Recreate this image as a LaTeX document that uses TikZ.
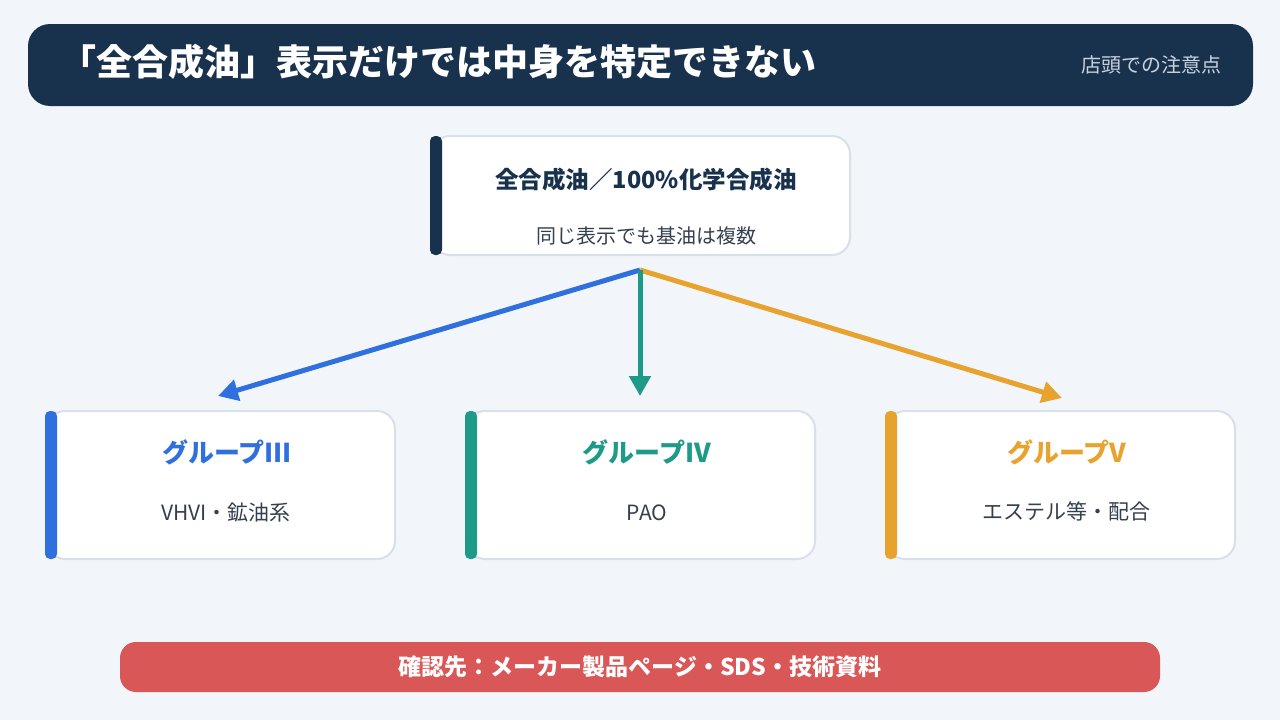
\documentclass[tikz,border=0pt]{standalone}
\usepackage{fontspec}
\setmainfont{Noto Sans CJK JP}
\usetikzlibrary{arrows.meta}
\definecolor{bg}{HTML}{F2F5FA}
\definecolor{navy}{HTML}{18324E}
\definecolor{cardline}{HTML}{D8E0EA}
\definecolor{subgray}{HTML}{C9D3DE}
\definecolor{txt}{HTML}{34404E}
\definecolor{blueA}{HTML}{2F6FDE}
\definecolor{tealA}{HTML}{1E9A88}
\definecolor{orangeA}{HTML}{E8A22E}
\definecolor{redA}{HTML}{D95757}
\tikzset{
  card/.style={draw=cardline, line width=2pt, fill=white, rounded corners=18pt},
  accent/.style={rounded corners=5pt},
  ttl/.style={font=\fontsize{#1}{#1}\selectfont\bfseries, anchor=center, inner sep=0pt},
  sub/.style={font=\fontsize{#1}{#1}\selectfont, text=txt, anchor=center, inner sep=0pt},
  flow/.style={line width=5pt, -{Triangle[length=20pt,width=21pt]}}
}
\begin{document}
\begin{tikzpicture}[x=1pt,y=-1pt]
\fill[bg] (0,0) rectangle (1280,720);
\useasboundingbox (0,0) rectangle (1280,720);
% header
\fill[navy, rounded corners=22pt] (28,24) rectangle (1253,106);
\node[ttl=36, text=white, anchor=west] (title) at (60,62) {「全合成油」表示だけでは中身を特定できない};
\node[font=\fontsize{20}{20}\selectfont, text=subgray, anchor=east, inner sep=0pt] (subtitle) at (1222,65) {店頭での注意点};
% top card
\draw[card] (432,136) rectangle (850,255);
\fill[navy, accent] (430,136) rectangle (442,255);
\node[ttl=23.5, text=navy] (toptitle) at (646,180) {全合成油／100\%化学合成油};
\node[sub=20] (topsub) at (646,236) {同じ表示でも基油は複数};
\coordinate (hub) at (640,270);
% group cards
\draw[card] (47,411) rectangle (395,559);
\fill[blueA, accent] (45,411) rectangle (57,559);
\node[ttl=26, text=blueA] (g3) at (227,452) {グループIII};
\node[sub=21] (g3s) at (226,513) {VHVI・鉱油系};
\draw[card] (467,411) rectangle (815,559);
\fill[tealA, accent] (465,411) rectangle (477,559);
\node[ttl=26, text=tealA] (g4) at (647,452) {グループIV};
\node[sub=21] (g4s) at (647,513) {PAO};
\draw[card] (887,411) rectangle (1235,559);
\fill[orangeA, accent] (885,411) rectangle (897,559);
\node[ttl=26, text=orangeA] (g5) at (1067,452) {グループV};
\node[sub=21] (g5s) at (1066,511) {エステル等・配合};
% arrows
\coordinate (t3) at (218,396);
\coordinate (t4) at (640,396);
\coordinate (t5) at (1062,398);
\draw[flow, blueA] (hub) -- (t3);
\draw[flow, orangeA] (hub) -- (t5);
\draw[flow, tealA] (hub) -- (t4);
% bottom bar
\fill[redA, rounded corners=16pt] (120,642) rectangle (1160,692);
\node[ttl=23, text=white] (note) at (640,667) {確認先：メーカー製品ページ・SDS・技術資料};
\end{tikzpicture}
\end{document}
